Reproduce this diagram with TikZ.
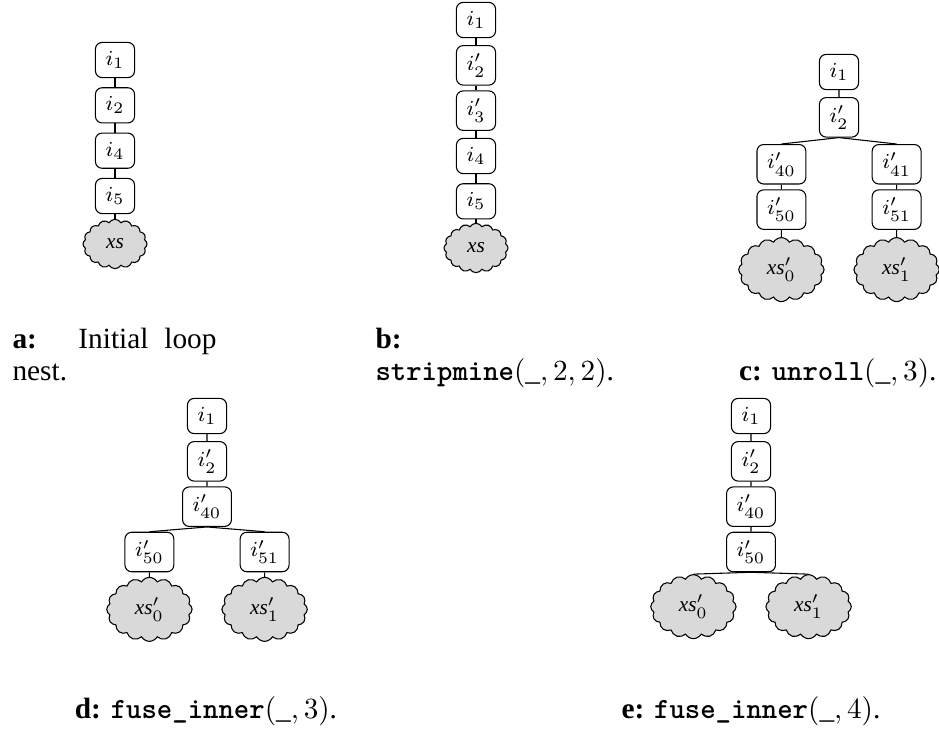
\documentclass[tikz,border=0pt]{standalone}
\usepackage[no-math]{fontspec}
\setmainfont{Liberation Serif}
\setmonofont{lmmono10-regular.otf}[BoldFont=lmmonolt10-bold.otf]
\usetikzlibrary{positioning,shapes.symbols}

\begin{document}
\begin{tikzpicture}[x=0.375pt, y=-0.375pt,
    node distance=17pt, on grid,
    idx/.style={
      draw, rounded corners=2.5pt, minimum width=13.8pt, minimum height=13.2pt,
      inner xsep=3.8pt, inner ysep=3pt, font=\fontsize{8}{9.5}\selectfont
    },
    body/.style={
      draw, cloud, cloud puffs=16, cloud puff arc=120, cloud ignores aspect,
      fill=black!15, inner sep=0pt, font=\fontsize{8}{9.5}\selectfont
    },
    small body/.style={body, minimum width=24pt, minimum height=18.5pt},
    big body/.style={body, minimum width=32pt, minimum height=24pt},
    subcap/.style={font=\fontsize{11}{12}\selectfont, inner sep=0pt, anchor=base west}
  ]
  \useasboundingbox (0,0) rectangle (939,744);

  % ===== (a) Initial loop nest =====
  \node[idx] (a1) at (115,60) {$i_1$};
  \node[idx, below=of a1] (a2) {$i_2$};
  \node[idx, below=of a2] (a4) {$i_4$};
  \node[idx, below=of a4] (a5) {$i_5$};
  \node[small body, below=18pt of a5] (axs) {\textit{xs}};
  \draw (a1.south) -- (a2.north)  (a2.south) -- (a4.north)
        (a4.south) -- (a5.north)  (a5.south) -- (axs.north);

  \node[subcap] (capa) at (12,348) {\makebox[76.5pt][s]{\textbf{a:}\enspace{} Initial loop}};
  \node[subcap] (capa2) at (12,380) {nest.};

  % ===== (b) stripmine =====
  \node[idx] (b1) at (476,20) {$i_1$};
  \node[idx, below=of b1] (b2) {$i'_2$};
  \node[idx, below=of b2] (b3) {$i'_3$};
  \node[idx, below=of b3] (b4) {$i_4$};
  \node[idx, below=of b4] (b5) {$i_5$};
  \node[small body, below=17.5pt of b5] (bxs) {\textit{xs}};
  \draw (b1.south) -- (b2.north)  (b2.south) -- (b3.north)
        (b3.south) -- (b4.north)  (b4.south) -- (b5.north)
        (b5.south) -- (bxs.north);

  \node[subcap] (capb) at (375,348) {\textbf{b:}};
  \node[subcap] (capb2) at (375,380) {\texttt{\textbf{stripmine}}$(\_,2,2)$.};

  % ===== (c) unroll =====
  \node[idx] (c1) at (839,72) {$i_1$};
  \node[idx, below=of c1] (c2) {$i'_2$};
  \node[idx, below left=17.6pt and 21.6pt of c2] (c40) {$i'_{40}$};
  \node[idx, below right=17.6pt and 21.6pt of c2] (c41) {$i'_{41}$};
  \node[idx, below=of c40] (c50) {$i'_{50}$};
  \node[idx, below=of c41] (c51) {$i'_{51}$};
  \node[big body, below=22.5pt of c50] (cxs0) {$\textit{xs}'_0$};
  \node[big body, below=22.5pt of c51] (cxs1) {$\textit{xs}'_1$};
  \draw (c1.south) -- (c2.north)
        (c2.south) -- (c40.north)  (c2.south) -- (c41.north)
        (c40.south) -- (c50.north) (c41.south) -- (c51.north)
        (c50.south) -- (cxs0.north) (c51.south) -- (cxs1.north);

  \node[subcap, anchor=base east] (capc) at (937,380) {\textbf{c:} \texttt{\textbf{unroll}}$(\_,3)$.};

  % ===== (d) fuse_inner, 3 =====
  \node[idx] (d1) at (207,416) {$i_1$};
  \node[idx, below=of d1] (d2) {$i'_2$};
  \node[idx, below=of d2] (d40) {$i'_{40}$};
  \node[idx, below left=17pt and 21.6pt of d40] (d50) {$i'_{50}$};
  \node[idx, below right=17pt and 21.6pt of d40] (d51) {$i'_{51}$};
  \node[big body, below=21.5pt of d50] (dxs0) {$\textit{xs}'_0$};
  \node[big body, below=21.5pt of d51] (dxs1) {$\textit{xs}'_1$};
  \draw (d1.south) -- (d2.north)  (d2.south) -- (d40.north)
        (d40.south) -- (d50.north) (d40.south) -- (d51.north)
        (d50.south) -- (dxs0.north) (d51.south) -- (dxs1.north);

  \node[subcap, anchor=base] (capd) at (206,718) {\textbf{d:} \texttt{\textbf{fuse\_inner}}$(\_,3)$.};

  % ===== (e) fuse_inner, 4 =====
  \node[idx] (e1) at (751,416) {$i_1$};
  \node[idx, below=of e1] (e2) {$i'_2$};
  \node[idx, below=of e2] (e40) {$i'_{40}$};
  \node[idx, below=of e40] (e50) {$i'_{50}$};
  \node[big body, below left=20.5pt and 21.6pt of e50] (exs0) {$\textit{xs}'_0$};
  \node[big body, below right=20.5pt and 21.6pt of e50] (exs1) {$\textit{xs}'_1$};
  \draw (e1.south) -- (e2.north)  (e2.south) -- (e40.north)
        (e40.south) -- (e50.north)
        (e50.south) -- (exs0.north) (e50.south) -- (exs1.north);

  \node[subcap, anchor=base] (cape) at (751,718) {\textbf{e:} \texttt{\textbf{fuse\_inner}}$(\_,4)$.};

\end{tikzpicture}
\end{document}
